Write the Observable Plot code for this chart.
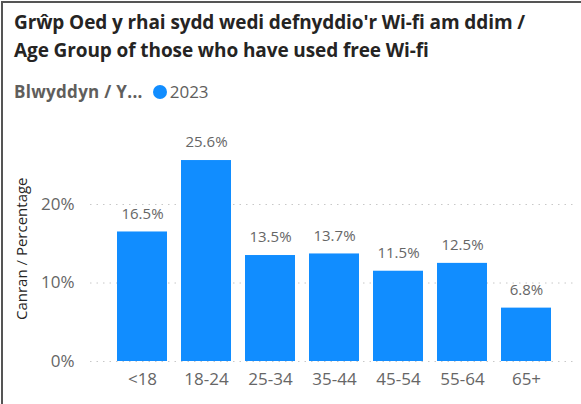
<!DOCTYPE html>
<html><head><meta charset="utf-8">
<script src="https://cdn.jsdelivr.net/npm/d3@7"></script>
<script src="https://cdn.jsdelivr.net/npm/@observablehq/plot@0.6"></script>
<style>
body{margin:0;font-family:"Open Sans",sans-serif;background:#fff}
#wrap{position:relative;width:581px;height:404px;overflow:hidden;background:#fff}
#border{position:absolute;left:1px;top:1px;width:700px;height:600px;border-left:2px solid #555;border-top:2px solid #555;box-sizing:border-box}
#title{position:absolute;left:14px;top:8px;font-weight:700;font-size:19px;line-height:28px;color:#252423;white-space:nowrap;letter-spacing:-0.1px}
#legend{position:absolute;left:14px;top:80px;font-size:17px;color:#605E5C;display:flex;align-items:center;white-space:nowrap}
#legend b{font-weight:700;margin-right:10px;letter-spacing:0.3px}
#legend .dot{display:inline-block;width:14px;height:14px;border-radius:50%;background:#118DFF;margin-right:3px}
#legend .yr{color:#605E5C}
#chart{position:absolute;left:0;top:110px}
</style></head>
<body>
<div id="wrap">
  <div id="border"></div>
  <div id="title">Grŵp Oed y rhai sydd wedi defnyddio'r Wi-fi am ddim /<br>Age Group of those who have used free Wi-fi</div>
  <div id="legend"><b>Blwyddyn / Y...</b><span class="dot"></span><span class="yr">2023</span></div>
  <div id="chart"></div>
</div>
<script>
const categories = ["<18", "18-24", "25-34", "35-44", "45-54", "55-64", "65+"];
const values = [16.5, 25.6, 13.5, 13.7, 11.5, 12.5, 6.8];
const yTicks = [0, 10, 20];
const yLabel = "Canran / Percentage";

const data = categories.map((c, i) => ({cat: c, val: values[i]}));

const chart = Plot.plot({
  width: 581,
  height: 294,
  marginTop: 15.5,
  marginBottom: 43,
  marginLeft: 90,
  marginRight: 4,
  style: {fontFamily: "Open Sans, sans-serif", fontSize: "17px", color: "#666", background: "transparent"},
  x: {domain: categories, paddingInner: 0.22, paddingOuter: 0.4, label: null},
  y: {domain: [0, 30], label: null},
  marks: [
    Plot.ruleY(yTicks, {stroke: "#c8c8c8", strokeDasharray: "1.5,5", strokeWidth: 1}),
    Plot.barY(data, {x: "cat", y: "val", fill: "#118DFF"}),
    Plot.text(data, {x: "cat", y: "val", text: d => d.val.toFixed(1) + "%", dy: -18, fontSize: 15, fill: "#666"}),
    Plot.axisX({tickSize: 0, tickPadding: 11, fontSize: 17, fill: "#666", label: null}),
    Plot.axisY({ticks: yTicks, tickFormat: d => d + "%", tickSize: 0, tickPadding: 16, fontSize: 17, fill: "#666", label: null}),
    Plot.text([yLabel], {frameAnchor: "left", text: d => d, rotate: -90, textAnchor: "middle", dx: -68, dy: 5, fontSize: 15, fill: "#252423"})
  ]
});
document.getElementById("chart").appendChild(chart);
</script>
</body></html>
